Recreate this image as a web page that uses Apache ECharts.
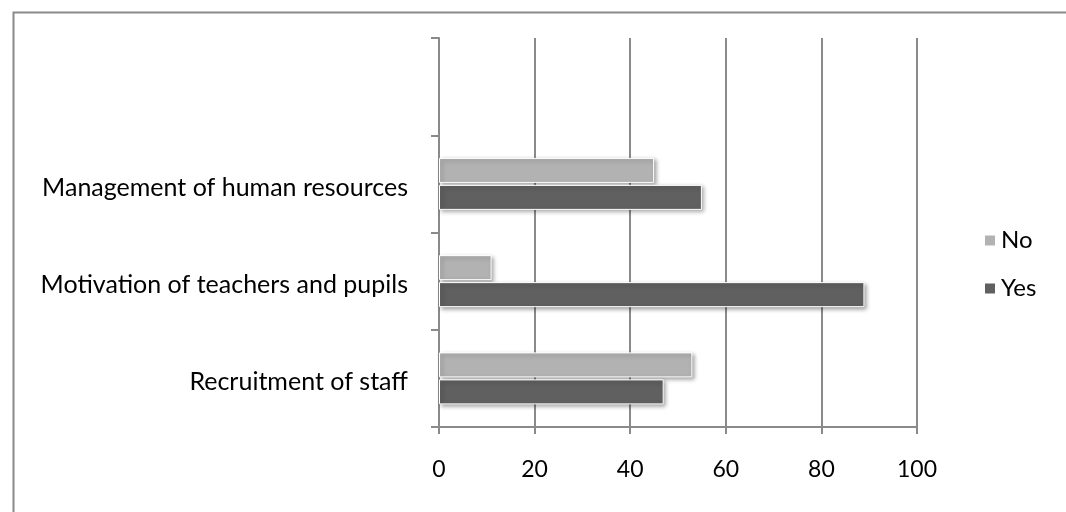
<!DOCTYPE html>
<html>
<head>
<meta charset="utf-8">
<script src="https://cdn.jsdelivr.net/npm/echarts@6/dist/echarts.min.js"></script>
<style>html,body{margin:0;padding:0;background:#fff;}#c{width:1066px;height:512px;}</style>
</head>
<body>
<div id="c"></div>
<script>
const categories = ['Recruitment of staff', 'Motivation of teachers and pupils', 'Management of human resources', ''];
const yesValues = [47, 89, 55, null];
const noValues = [53, 11, 45, null];
const xTicks = [0, 20, 40, 60, 80, 100];

const chart = echarts.init(document.getElementById('c'));
const FONT = 'Lato';
const barStyle = (color) => ({
  color: color,
  borderColor: '#ffffff',
  borderWidth: 1,
  shadowColor: 'rgba(0,0,0,0.35)',
  shadowBlur: 4,
  shadowOffsetX: 2,
  shadowOffsetY: 2
});
chart.setOption({
  animation: false,
  backgroundColor: '#ffffff',
  graphic: [{
    type: 'rect',
    left: 11, top: 10,
    shape: { width: 1100, height: 600 },
    style: { fill: 'none', stroke: '#8a8a8a', lineWidth: 2 },
    silent: true
  }],
  grid: { left: 439, right: 149, top: 38, bottom: 85, containLabel: false },
  legend: {
    orient: 'vertical',
    left: 983, top: 228,
    itemWidth: 12, itemHeight: 12,
    itemGap: 23,
    padding: 0,
    data: ['No', 'Yes'],
    icon: 'rect',
    textStyle: { fontFamily: FONT, fontSize: 24, lineHeight: 25, color: '#000', padding: [0, 0, 0, 0] }
  },
  xAxis: {
    type: 'value',
    min: xTicks[0], max: xTicks[xTicks.length - 1], interval: 20,
    axisLine: { show: true, lineStyle: { color: '#8a8a8a', width: 2 } },
    axisTick: { show: true, length: 7, lineStyle: { color: '#8a8a8a', width: 2 } },
    splitLine: { show: true, lineStyle: { color: '#8a8a8a', width: 2 } },
    axisLabel: { margin: 31, fontFamily: FONT, fontSize: 23, color: '#000' }
  },
  yAxis: {
    type: 'category',
    data: categories,
    axisLine: { show: true, lineStyle: { color: '#8a8a8a', width: 2 } },
    axisTick: { show: true, length: 8, alignWithLabel: false, lineStyle: { color: '#8a8a8a', width: 2 } },
    axisLabel: { margin: 31, fontFamily: FONT, fontSize: 25, color: '#000', verticalAlign: 'top', lineHeight: 8 }
  },
  series: [
    { name: 'No', type: 'bar', data: noValues, barWidth: 25, barGap: '8%', itemStyle: barStyle('#b2b2b2') },
    { name: 'Yes', type: 'bar', data: yesValues, barWidth: 25, barGap: '8%', itemStyle: barStyle('#606060') }
  ]
});
</script>
</body>
</html>
